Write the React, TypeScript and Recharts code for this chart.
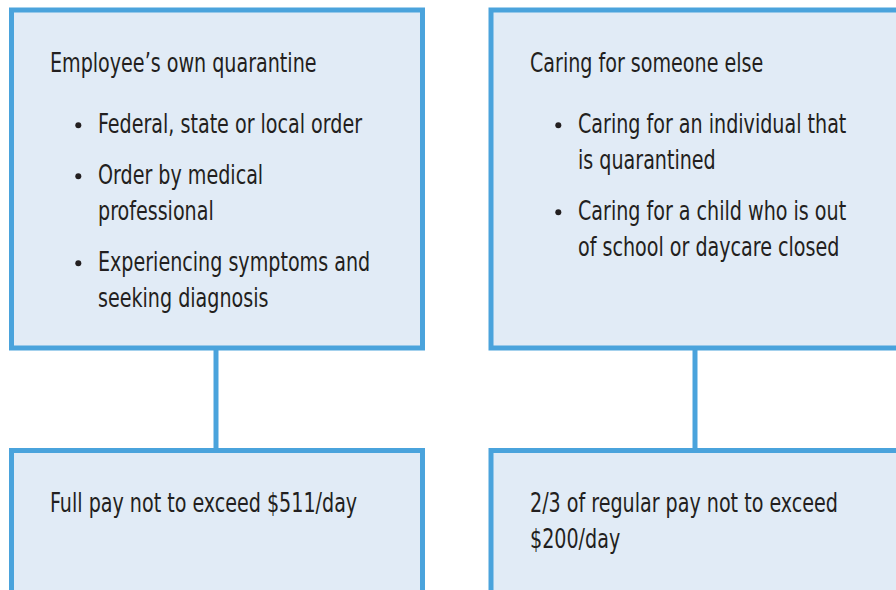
import React from "react";
import { ComposedChart, XAxis, YAxis, ReferenceArea, ReferenceLine, Scatter } from "recharts";

// ---- content ----
const titles = ["Employee’s own quarantine", "Caring for someone else"];
const leftBullets = [
  ["Federal, state or local order"],
  ["Order by medical", "professional"],
  ["Experiencing symptoms and", "seeking diagnosis"],
];
const rightBullets = [
  ["Caring for an individual that", "is quarantined"],
  ["Caring for a child who is out", "of school or daycare closed"],
];
const outcomes = [["Full pay not to exceed $511/day"], ["2/3 of regular pay not to exceed", "$200/day"]];

// ---- layout (data units of the hidden axes) ----
const colLeft = [50, 530];
const boxes = [
  { x1: 11.5, x2: 422.5, y1: 10, y2: 348 },
  { x1: 491, x2: 910, y1: 10, y2: 348 },
  { x1: 11.5, x2: 422.5, y1: 450.5, y2: 600 },
  { x1: 491, x2: 910, y1: 450.5, y2: 600 },
];
const connectors = [216, 695];

const FONT = "'Liberation Sans Narrow', 'DejaVu Sans Condensed', 'Roboto Condensed', sans-serif";
const TEXT = "#231f20";
const BORDER = "#4aa3dc";
const FILL = "#e1ebf6";
const SQUEEZE = 0.787;

type Row = { x: number; y: number; text?: string; bullet?: boolean };

function buildRows(): Row[] {
  const rows: Row[] = [];
  const bulletGroups = [leftBullets, rightBullets];
  titles.forEach((t, c) => {
    rows.push({ x: colLeft[c], y: 72.3, text: t });
    let y = 133.3;
    bulletGroups[c].forEach((item) => {
      rows.push({ x: colLeft[c] + 28.3, y: y - 8, bullet: true });
      item.forEach((line) => {
        rows.push({ x: colLeft[c] + 48, y, text: line });
        y += 36;
      });
      y += 15;
    });
    let yb = 512;
    outcomes[c].forEach((line) => {
      rows.push({ x: colLeft[c], y: yb, text: line });
      yb += 36;
    });
  });
  return rows;
}
const rows = buildRows();

const renderShape = (props: any) => {
  const { cx, cy, payload } = props;
  if (payload.bullet) return <circle cx={cx} cy={cy} r={3} fill={TEXT} />;
  return (
    <text
      x={0}
      y={0}
      transform={`translate(${cx},${cy}) scale(${SQUEEZE},1)`}
      fill={TEXT}
      fontFamily={FONT}
      fontSize={27}
    >
      {payload.text}
    </text>
  );
};

export default function App() {
  return (
    <div style={{ position: "absolute", left: 0, top: 0, background: "#fff" }}>
      <ComposedChart width={896} height={590} margin={{ top: 0, right: 0, bottom: 0, left: 0 }}>
        <XAxis type="number" dataKey="x" domain={[0, 896]} hide allowDataOverflow />
        <YAxis type="number" dataKey="y" domain={[0, 590]} reversed hide allowDataOverflow />
        {connectors.map((x) => (
          <ReferenceLine
            key={x}
            segment={[{ x, y: 348 }, { x, y: 450.5 }]}
            stroke={BORDER}
            strokeWidth={5}
            ifOverflow="visible"
          />
        ))}
        {boxes.map((b, i) => (
          <ReferenceArea
            key={i}
            x1={b.x1}
            x2={b.x2}
            y1={b.y1}
            y2={b.y2}
            fill={FILL}
            fillOpacity={1}
            stroke={BORDER}
            strokeWidth={5}
            ifOverflow="visible"
          />
        ))}
        <Scatter data={rows} shape={renderShape} isAnimationActive={false} />
      </ComposedChart>
    </div>
  );
}
